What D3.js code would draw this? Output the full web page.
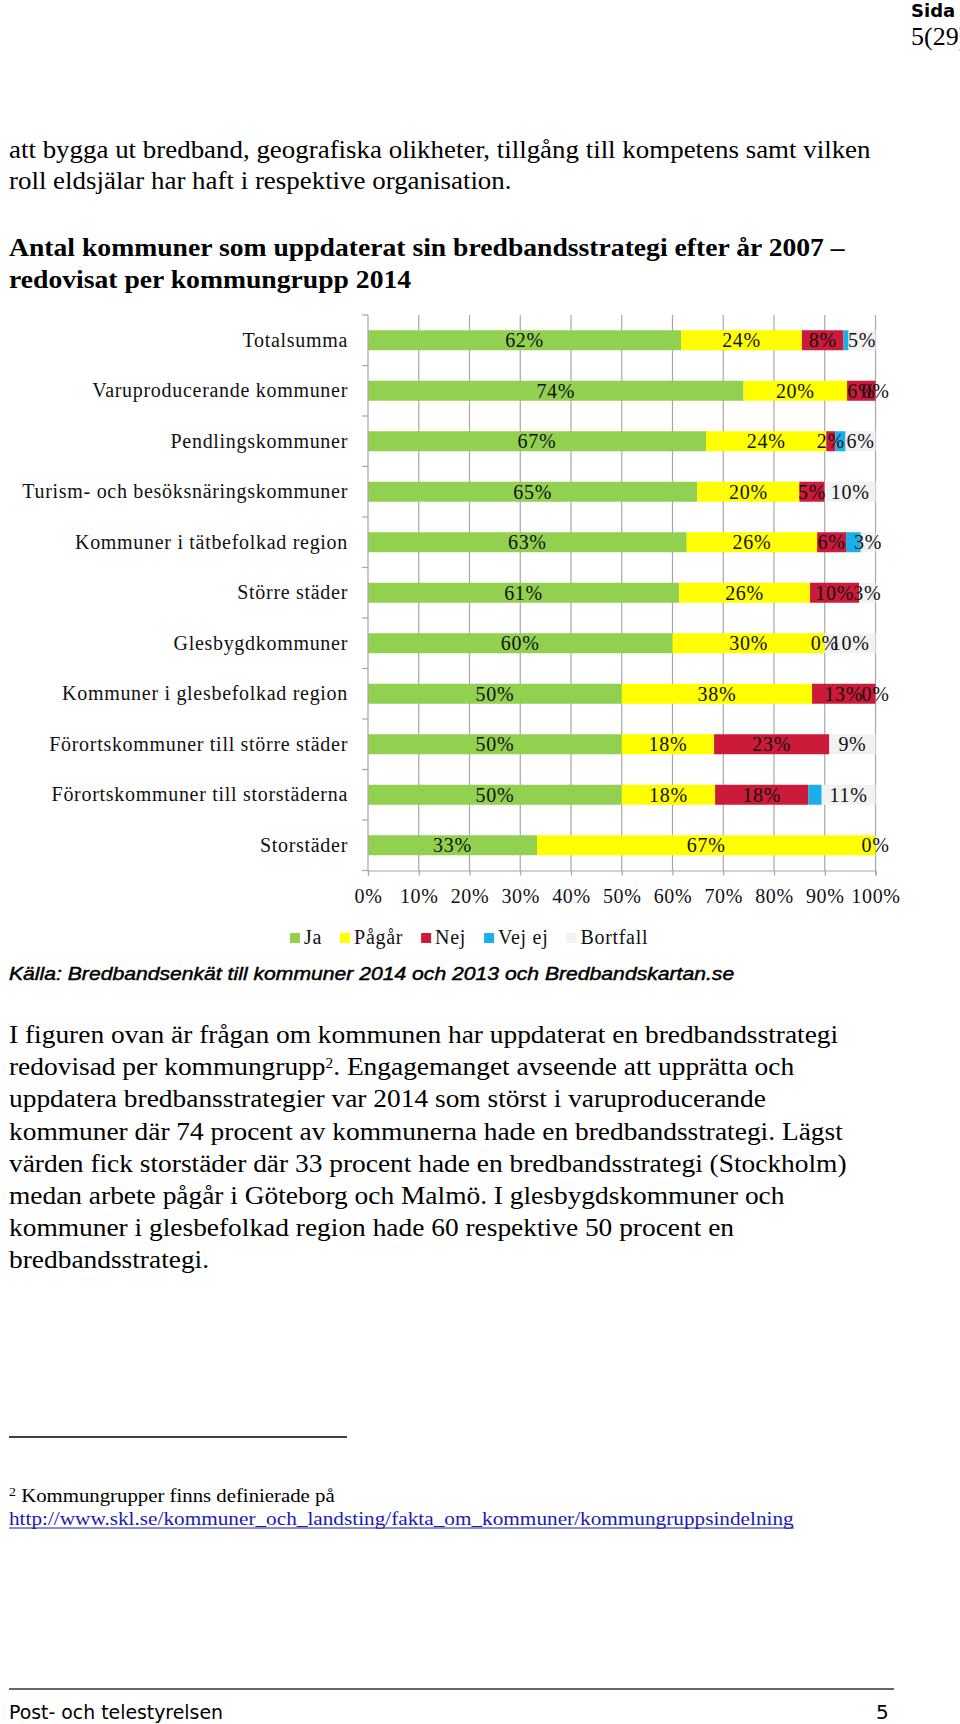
<!DOCTYPE html>
<html><head><meta charset="utf-8">
<script src="https://cdn.jsdelivr.net/npm/d3@7"></script>
<style>body{margin:0;background:#fff} svg{display:block}</style>
</head><body>
<svg id="page" width="960" height="1724"></svg>
<script>
// ---------- data ----------
const categories = ["Totalsumma","Varuproducerande kommuner","Pendlingskommuner","Turism- och besöksnäringskommuner","Kommuner i tätbefolkad region","Större städer","Glesbygdkommuner","Kommuner i glesbefolkad region","Förortskommuner till större städer","Förortskommuner till storstäderna","Storstäder"];
const seriesNames = ["Ja","Pågår","Nej","Vej ej","Bortfall"];
const ja       = [61.7, 74.0, 66.6, 64.9, 62.8, 61.3, 60.0, 50.0, 50.0, 50.0, 33.3];
const pagar    = [23.8, 20.4, 23.7, 20.1, 25.7, 25.8, 30.0, 37.5, 18.2, 18.4, 66.7];
const nej      = [ 8.2,  5.6,  1.8,  5.0,  5.7,  9.7,  0.0, 12.5, 22.7, 18.4,  0.0];
const vejEj    = [ 1.0, null,  2.0, null,  2.9, null, null, null, null,  2.6, null];
const bortfall = [ 5.3,  0.0,  5.9, 10.0,  2.9,  3.2, 10.0,  0.0,  9.1, 10.6, null];
const xTickValues = [0,10,20,30,40,50,60,70,80,90,100];
const seriesColors = ["#92D050","#FFFF00","#CC1A3A","#1AAFE6","#F2F2F2"];
const labelledSeries = [true,true,true,false,true];

const seriesValues = [ja, pagar, nej, vejEj, bortfall];
const rows = categories.map((c,i)=>{
  const o = {cat:c};
  seriesNames.forEach((s,k)=>{ o[s] = seriesValues[k][i]; });
  return o;
});

const svg = d3.select("#page");
const SERIF = "'Liberation Serif','Times New Roman',serif";
const SANS = "'Liberation Sans',Arial,sans-serif";

// ---------- text helpers ----------
function addLine(x, y, parts, o){
  const g = svg.append("g").attr("transform", `translate(${x},${y})`);
  const t = g.append("text").attr("x",0).attr("y",0)
    .attr("font-family", o.family || SERIF)
    .attr("font-size", o.size)
    .attr("font-weight", o.weight || "normal")
    .attr("font-style", o.style || "normal")
    .attr("fill", o.color || "#000");
  if (o.stroke) t.attr("stroke", o.color || "#000").attr("stroke-width", o.stroke);
  (Array.isArray(parts)?parts:[parts]).forEach(p=>{
    if (typeof p === "string") t.append("tspan").text(p);
    else t.append("tspan").attr("baseline-shift","super").attr("font-size", p.size).text(p.sup);
  });
  return {g, t, w: t.node().getComputedTextLength(), x, y, o};
}
function fitBlock(lines, refIndex, refWidth){
  const sx = refWidth / lines[refIndex].w;
  lines.forEach(l=>{
    l.g.attr("transform", `translate(${l.x},${l.y}) scale(${sx},1)`);
    l.sw = l.w*sx;
  });
  return sx;
}

// ---------- header ----------
addLine(911, 17, "Sida", {family:"'DejaVu Sans',Verdana,sans-serif", size:18, weight:"bold"});
addLine(911, 45, "5(29)", {size:26});

// ---------- top body text ----------
const introLines = [
  addLine(9, 158, "att bygga ut bredband, geografiska olikheter, tillgång till kompetens samt vilken", {size:25}),
  addLine(9, 189, "roll eldsjälar har haft i respektive organisation.", {size:25})
];
fitBlock(introLines, 0, 862);

const titleLines = [
  addLine(9, 256, "Antal kommuner som uppdaterat sin bredbandsstrategi efter år 2007 –", {size:26, weight:"bold"}),
  addLine(9, 288, "redovisat per kommungrupp 2014", {size:26, weight:"bold"})
];
fitBlock(titleLines, 0, 836);

// ---------- chart ----------
const x = d3.scaleLinear().domain([0,100]).range([368, 875.5]);
const y = d3.scaleBand().domain(categories).range([315, 870.5]).paddingInner(0.604).paddingOuter(0.302);
const chartFont = {family:SERIF, size:20, ls:0.7};
const gridCol = "#A6A6A6";

const chart = svg.append("g");
chart.append("g").selectAll("line").data(xTickValues.filter(v=>v>0)).join("line")
  .attr("x1", d=>x(d)).attr("x2", d=>x(d))
  .attr("y1", y.range()[0]).attr("y2", y.range()[1])
  .attr("stroke", gridCol).attr("stroke-width", 1.2);

const stack = d3.stack().keys(seriesNames).value((d,k)=> d[k] == null ? 0 : d[k]);
const stacked = stack(rows);
chart.append("g").selectAll("g").data(stacked).join("g")
  .attr("fill", (d,i)=>seriesColors[i])
  .selectAll("rect").data(d=>d).join("rect")
  .attr("x", d=>x(d[0])).attr("width", d=>Math.max(0, x(d[1])-x(d[0])))
  .attr("y", d=>y(d.data.cat)).attr("height", y.bandwidth());

const step = y.step();
const boundaries = categories.map(c=> y(c) - (step - y.bandwidth())/2).concat([y.range()[1]]);
chart.append("line").attr("x1", x(0)).attr("x2", x(0)).attr("y1", y.range()[0]).attr("y2", y.range()[1])
  .attr("stroke", gridCol).attr("stroke-width", 1.2);
chart.append("g").selectAll("line").data(boundaries).join("line")
  .attr("x1", x(0)-6).attr("x2", x(0)).attr("y1", d=>d).attr("y2", d=>d)
  .attr("stroke", gridCol).attr("stroke-width", 1.2);
chart.append("g").selectAll("text").data(categories).join("text")
  .attr("x", 348).attr("y", d=>y(d)+y.bandwidth()/2).attr("dy","0.32em")
  .attr("text-anchor","end").attr("font-family", chartFont.family).attr("font-size", chartFont.size)
  .attr("letter-spacing", chartFont.ls).attr("fill","#111").text(d=>d);

const xAxis = d3.axisBottom(x).tickValues(xTickValues).tickFormat(d=>d+"%").tickSize(5).tickPadding(13);
const xg = chart.append("g").attr("transform", `translate(0,${y.range()[1]})`).call(xAxis);
xg.select(".domain").attr("stroke", gridCol).attr("stroke-width",1.2);
xg.selectAll(".tick line").attr("stroke", gridCol).attr("stroke-width",1.2);
xg.selectAll(".tick text").attr("font-family", chartFont.family).attr("font-size", chartFont.size)
  .attr("letter-spacing", chartFont.ls).attr("fill","#111");

const fmt = d3.format(".0f");
const labels = [];
stacked.forEach((s,k)=>{
  if (!labelledSeries[k]) return;
  s.forEach(d=>{
    const v = d.data[s.key];
    if (v == null) return;
    labels.push({x:(x(d[0])+x(d[1]))/2, y:y(d.data.cat)+y.bandwidth()/2, t:fmt(v)+"%"});
  });
});
chart.append("g").selectAll("text").data(labels).join("text")
  .attr("x", d=>d.x).attr("y", d=>d.y).attr("dy","0.34em").attr("text-anchor","middle")
  .attr("font-family", chartFont.family).attr("font-size", chartFont.size)
  .attr("letter-spacing", chartFont.ls).attr("fill","#111").text(d=>d.t);

const lg = chart.append("g").attr("transform","translate(290,938)");
let lx = 0;
seriesNames.forEach((s,i)=>{
  lg.append("rect").attr("x", lx).attr("y", -5).attr("width",10).attr("height",10).attr("fill", seriesColors[i]);
  const t = lg.append("text").attr("x", lx+14).attr("y",0).attr("dy","0.32em")
    .attr("font-family", chartFont.family).attr("font-size", chartFont.size)
    .attr("letter-spacing", chartFont.ls).attr("fill","#111").text(s);
  lx += 14 + t.node().getComputedTextLength() + 18;
});

const srcLines = [addLine(9, 980, "Källa: Bredbandsenkät till kommuner 2014 och 2013 och Bredbandskartan.se", {family:SANS, size:18, style:"italic", stroke:0.45})];
fitBlock(srcLines, 0, 726);

// ---------- paragraph ----------
const paraLines = [
  "I figuren ovan är frågan om kommunen har uppdaterat en bredbandsstrategi",
  ["redovisad per kommungrupp", {sup:"2", size:14}, ". Engagemanget avseende att upprätta och"],
  "uppdatera bredbansstrategier var 2014 som störst i varuproducerande",
  "kommuner där 74 procent av kommunerna hade en bredbandsstrategi. Lägst",
  "värden fick storstäder där 33 procent hade en bredbandsstrategi (Stockholm)",
  "medan arbete pågår i Göteborg och Malmö. I glesbygdskommuner och",
  "kommuner i glesbefolkad region hade 60 respektive 50 procent en",
  "bredbandsstrategi."
].map((p,i)=> addLine(9, 1043 + i*32.2, p, {size:25}));
fitBlock(paraLines, 4, 838);

// ---------- footnote ----------
svg.append("line").attr("x1",9).attr("x2",347).attr("y1",1437).attr("y2",1437).attr("stroke","#000").attr("stroke-width",1.3);
const fnLines = [addLine(9, 1502, [{sup:"2", size:12}, " Kommungrupper finns definierade på"], {size:18})];
fitBlock(fnLines, 0, 326);
const urlLines = [addLine(9, 1525, "http://www.skl.se/kommuner_och_landsting/fakta_om_kommuner/kommungruppsindelning", {size:18, color:"#1A1AB4"})];
fitBlock(urlLines, 0, 785);
svg.append("line").attr("x1",9).attr("x2",9+urlLines[0].sw).attr("y1",1528).attr("y2",1528).attr("stroke","#1A1AB4").attr("stroke-width",1);

// ---------- footer ----------
svg.append("line").attr("x1",9).attr("x2",894).attr("y1",1689).attr("y2",1689).attr("stroke","#333").attr("stroke-width",1.5);
const footLines = [addLine(9, 1719, "Post- och telestyrelsen", {family:"'DejaVu Sans',Verdana,sans-serif", size:20})];
fitBlock(footLines, 0, 214);
addLine(876, 1719, "5", {family:"'DejaVu Sans',Verdana,sans-serif", size:20});
</script>
</body></html>
